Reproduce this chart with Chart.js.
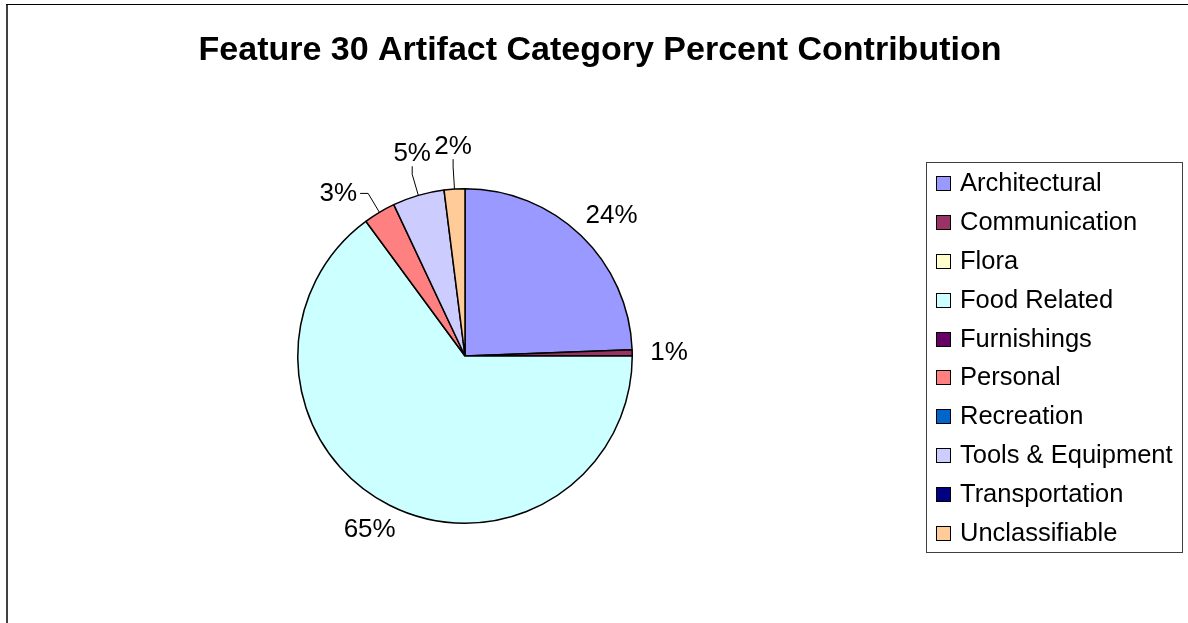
<!DOCTYPE html>
<html>
<head>
<meta charset="utf-8">
<script src="https://cdn.jsdelivr.net/npm/chart.js@4/dist/chart.umd.min.js"></script>
<style>
  html, body { margin: 0; padding: 0; background: #fff; }
  canvas { display: block; }
</style>
</head>
<body>
<canvas id="myChart" width="1188" height="623"></canvas>
<script>
// Datos (porcentaje por categoría)
var categorias = ['Architectural', 'Communication', 'Flora', 'Food Related', 'Furnishings',
                  'Personal', 'Recreation', 'Tools & Equipment', 'Transportation', 'Unclassifiable'];
var porcentajes = [24.4, 0.6, 0, 64.9, 0, 3.1, 0, 5.0, 0, 2.0];
var colores = ['#9999FF', '#993366', '#FFFFCC', '#CCFFFF', '#660066',
               '#FF8080', '#0066CC', '#CCCCFF', '#000080', '#FFCC99'];
var titulo = 'Feature 30 Artifact Category Percent Contribution';
// etiquetas que llevan línea guía
var conLinea = ['Personal', 'Tools & Equipment', 'Unclassifiable'];

var fuente = '"Liberation Sans", Arial, sans-serif';

// Plugin: fondo, marco, título, etiquetas de porcentaje y leyenda
var decoracion = {
  id: 'decoracion',
  beforeDraw: function(chart) {
    var ctx = chart.ctx;
    ctx.save();
    ctx.fillStyle = '#fff';
    ctx.fillRect(0, 0, chart.width, chart.height);
    // marco
    ctx.fillStyle = '#404040';
    ctx.fillRect(6, 4, 2, chart.height - 4);
    ctx.fillStyle = '#000';
    ctx.fillRect(6, 4, chart.width - 6, 1);
    // título
    ctx.fillStyle = '#000';
    ctx.font = 'bold 34px ' + fuente;
    ctx.textAlign = 'center';
    ctx.textBaseline = 'alphabetic';
    ctx.fillText(titulo, 600, 60);
    ctx.restore();
  },
  afterDraw: function(chart) {
    var ctx = chart.ctx;
    var meta = chart.getDatasetMeta(0);
    ctx.save();

    // etiquetas alrededor del pastel
    ctx.font = '26px ' + fuente;
    ctx.textAlign = 'center';
    ctx.textBaseline = 'middle';
    meta.data.forEach(function(arc, i) {
      var v = porcentajes[i];
      if (!v) return;
      var p = arc.getProps(['x', 'y', 'startAngle', 'endAngle', 'outerRadius'], true);
      var mid = (p.startAngle + p.endAngle) / 2;
      var dx = Math.cos(mid), dy = Math.sin(mid);
      var texto = Math.round(v) + '%';
      var w = ctx.measureText(texto).width, h = 20;
      var guia = conLinea.indexOf(categorias[i]) >= 0;
      var tx, ty;
      if (guia) {
        // línea guía: tramo radial y luego un codo corto hacia la etiqueta
        var ax = p.x + dx * (p.outerRadius + 22);
        var ay = p.y + dy * (p.outerRadius + 22);
        var ex = ax, ey = ay;
        if (Math.abs(dx) > 0.4) {
          ex = ax + 8 * Math.sign(dx);
          tx = ex + Math.sign(dx) * (w / 2 + 3);
          ty = ay;
        } else {
          ey = ay - 8;
          tx = ax;
          ty = ey - h / 2 - 2;
        }
        ctx.strokeStyle = '#000';
        ctx.lineWidth = 1;
        ctx.beginPath();
        ctx.moveTo(p.x + dx * p.outerRadius, p.y + dy * p.outerRadius);
        ctx.lineTo(ax, ay);
        ctx.lineTo(ex, ey);
        ctx.stroke();
      } else {
        var bx = p.x + dx * (p.outerRadius + 16);
        var by = p.y + dy * (p.outerRadius + 16);
        tx = bx + dx * (w / 2 + 2);
        ty = by + dy * (h / 2 + 1);
      }
      ctx.fillStyle = '#000';
      ctx.fillText(texto, tx, ty);
    });

    // leyenda
    var x0 = 926, y0 = 162, ancho = 256, alto = 390;
    ctx.strokeStyle = '#404040';
    ctx.lineWidth = 1;
    ctx.strokeRect(x0 + 0.5, y0 + 0.5, ancho, alto);
    ctx.font = '25.5px ' + fuente;
    ctx.textAlign = 'left';
    ctx.textBaseline = 'middle';
    var paso = (533 - 183) / (categorias.length - 1);
    categorias.forEach(function(c, i) {
      var cy = Math.round(183 + i * paso);
      ctx.fillStyle = colores[i];
      ctx.fillRect(936, cy - 7, 15, 15);
      ctx.strokeStyle = '#000';
      ctx.strokeRect(936.5, cy - 6.5, 14, 14);
      ctx.fillStyle = '#000';
      ctx.fillText(c, 960, cy + 1);
    });
    ctx.restore();
  }
};

var ctx = document.getElementById('myChart').getContext('2d');
var grafica = new Chart(ctx, {
  type: 'pie',
  data: {
    labels: categorias,
    datasets: [{
      data: porcentajes,
      backgroundColor: colores,
      borderColor: '#000',
      borderWidth: 1.5
    }]
  },
  options: {
    responsive: false,
    animation: false,
    devicePixelRatio: 1,
    layout: { padding: { top: 188, bottom: 99, left: 280, right: 538 } },
    plugins: {
      legend: { display: false },
      tooltip: { enabled: false },
      title: { display: false }
    }
  },
  plugins: [decoracion]
});
</script>
</body>
</html>
